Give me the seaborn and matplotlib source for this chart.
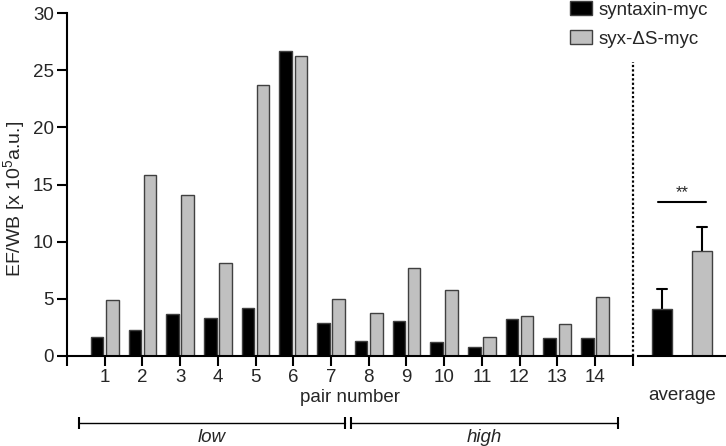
import matplotlib
matplotlib.use("Agg")
import matplotlib.pyplot as plt
import matplotlib.transforms as mtransforms
from matplotlib.patches import Patch
import numpy as np
import pandas as pd
import seaborn as sns

# values (EF/WB, x 10^5 a.u.)
pairs = list(range(1, 15))
syntaxin = [1.7, 2.3, 3.7, 3.3, 4.2, 26.7, 2.9, 1.3, 3.1, 1.2, 0.8, 3.2, 1.6, 1.55]
syx_ds = [4.9, 15.8, 14.1, 8.1, 23.7, 26.2, 5.0, 3.8, 7.7, 5.8, 1.7, 3.5, 2.8, 5.2]
constructs = ["syntaxin-myc", "syx-\u0394S-myc"]
colors = ["#000000", "#c0c0c0"]

df = pd.DataFrame({
    "pair": pairs * 2,
    "value": syntaxin + syx_ds,
    "construct": [constructs[0]] * len(pairs) + [constructs[1]] * len(pairs),
})

sns.set_style("ticks")
plt.rcParams["font.family"] = ["Liberation Sans", "DejaVu Sans"]
plt.rcParams["mathtext.default"] = "regular"
fs = 13.5

fig = plt.figure(figsize=(7.26, 4.46), dpi=100)
ax = fig.add_axes([67 / 726, 1 - 356 / 446, (632.7 - 67) / 726, 343 / 446])
ax2 = fig.add_axes([638 / 726, 1 - 356 / 446, 88 / 726, 343 / 446])

# per-pair bars
sns.barplot(data=df, x="pair", y="value", hue="construct", native_scale=True,
            palette=colors, width=0.8, gap=0.17, edgecolor="#404040",
            linewidth=1.0, errorbar=None, legend=False, ax=ax)
ax.set_xlim(0, 15)
ax.set_ylim(0, 30)
ax.set_xticks(range(16))
ax.set_xticklabels([""] + [str(p) for p in pairs] + [""])
ax.set_yticks([0, 5, 10, 15, 20, 25, 30])
ax.tick_params(axis="both", labelsize=fs, length=7, width=1.5, pad=2.5, color="black")
sns.despine(ax=ax)
for s in ["left", "bottom"]:
    ax.spines[s].set_linewidth(1.5)
    ax.spines[s].set_color("black")
ax.set_xlabel("pair number", fontsize=fs, labelpad=2)
ax.set_ylabel("EF/WB [x 10$^{5}$a.u.]", fontsize=14)
ax.yaxis.set_label_coords(-0.07, 0.458)

# dotted separator
ax.plot([15, 15], [0, 25.7], color="black", lw=1.6, ls=(0, (1, 1)), clip_on=False)

# low / high brackets under the axis
tr = mtransforms.blended_transform_factory(ax.transData, fig.transFigure)
yb = 1 - 423 / 446
for x0, x1, lab in [(0.31, 7.36, "low"), (7.52, 14.6, "high")]:
    ax.plot([x0, x1], [yb, yb], color="black", lw=1.0, marker="|", markersize=9,
            markeredgewidth=1.5, transform=tr, clip_on=False)
    ax.text((x0 + x1) / 2, yb - 0.014, lab, style="italic", fontsize=fs,
            ha="center", va="top", transform=tr)

# average panel: mean +/- SEM of the pairs
sns.barplot(data=df, x="construct", y="value", hue="construct", order=constructs,
            palette=colors, width=0.5, edgecolor="#404040", linewidth=1.0,
            errorbar="se", capsize=0.25, err_kws={"color": "black", "linewidth": 1.5, "zorder": 0},
            legend=False, ax=ax2)
for p in ax2.patches:
    p.set_zorder(2)
ax2.set_xlim(-0.6, 1.6)
ax2.set_ylim(0, 30)
ax2.set_xticks([])
ax2.set_yticks([])
ax2.set_ylabel("")
ax2.set_xlabel("average", fontsize=fs, labelpad=22)
sns.despine(ax=ax2, left=True)
ax2.spines["bottom"].set_linewidth(1.5)
ax2.spines["bottom"].set_color("black")
ax2.plot([-0.1, 1.1], [13.5, 13.5], color="black", lw=1.5)
ax2.text(0.5, 13.6, "**", ha="center", va="bottom", fontsize=12)

handles = [Patch(facecolor=c, edgecolor="#404040", linewidth=1.0) for c in colors]
fig.legend(handles, constructs, loc="upper left", bbox_to_anchor=(570 / 726, 0.998),
           frameon=False, fontsize=fs, handlelength=1.15, handleheight=0.8,
           handletextpad=0.35, labelspacing=0.6, borderpad=0, borderaxespad=0)

fig.savefig("out.png", dpi=100)
